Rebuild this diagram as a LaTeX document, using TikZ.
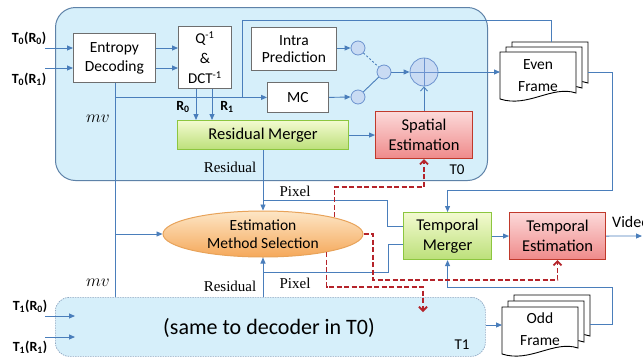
\documentclass[tikz,border=0pt]{standalone}
\usepackage{fontspec}
\setmainfont{Carlito}
\newfontfamily\srf{Liberation Serif}
\usetikzlibrary{arrows.meta,shapes.geometric}
\definecolor{lineblue}{HTML}{4A7EBB}
\definecolor{contborder}{HTML}{5E82A8}
\definecolor{contfill}{HTML}{D6EFFA}
\definecolor{boxgray}{HTML}{6E6E6E}
\definecolor{grnborder}{HTML}{8CC63F}
\definecolor{grntop}{HTML}{F3FAD0}
\definecolor{grnbot}{HTML}{BCE07A}
\definecolor{redborder}{HTML}{C0392B}
\definecolor{redtop}{HTML}{FCD9D9}
\definecolor{redbot}{HTML}{EF8A8A}
\definecolor{orgborder}{HTML}{E8A35A}
\definecolor{orgtop}{HTML}{FDE6C6}
\definecolor{orgbot}{HTML}{F5A85A}
\definecolor{cirborder}{HTML}{6C93CF}
\definecolor{cirfill}{HTML}{C9DBF3}
\definecolor{dashred}{HTML}{B5232A}
\newcommand\lbl{\fontsize{15.5}{19}\selectfont}
\newcommand\clbl{\fontsize{16.5}{20}\selectfont}
\begin{document}
\begin{tikzpicture}[x=1pt,y=-1pt,
 line/.style={draw=lineblue, line width=0.9pt},
 arr/.style={line, -{Triangle[length=6pt,width=5pt]}},
 rline/.style={draw=dashred, line width=1.8pt, dash pattern=on 5pt off 2.5pt},
 rarr/.style={rline, -{Straight Barb[length=4pt,width=8pt]}},
 wbox/.style={draw=boxgray, fill=white, line width=0.8pt, align=center, font=\lbl, inner sep=1pt, anchor=north west},
 gbox/.style={wbox, draw=grnborder, top color=grntop, bottom color=grnbot, line width=1.1pt, font=\clbl},
 rbox/.style={wbox, draw=redborder, top color=redtop, bottom color=redbot, line width=1.1pt, font=\clbl},
 cont/.style={draw=contborder, fill=contfill, rounded corners=20pt, line width=1pt, anchor=north west},
 cir/.style={circle, draw=cirborder, fill=cirfill, inner sep=0pt, minimum size=14pt, line width=0.8pt},
 doc/.style={draw=black, fill=white, line width=0.9pt},
 lab/.style={font=\srf\fontsize{15}{15}\selectfont, inner sep=0pt},
 inl/.style={font=\bfseries\fontsize{14}{14}\selectfont, inner sep=0pt},
 docpage/.pic={\draw[doc] (0,0) -- (76,0) -- (76,41) .. controls (52,33) and (28,56) .. (0,47) -- cycle;},
]
\fill[white] (0,0) rectangle (643,362);
\useasboundingbox (0,0) rectangle (643,362);

% containers
\node[cont, minimum width=432pt, minimum height=173pt] (T0) at (55,7) {};
\node[cont, draw=contborder!70, dash pattern=on 1.5pt off 1pt, line width=0.7pt, rounded corners=14pt, minimum width=430pt, minimum height=59pt] (T1) at (55,297) {};
\node[font=\fontsize{15}{15}\selectfont] (t0lbl) at (457,170) {T0};
\node[font=\fontsize{15}{15}\selectfont] (t1lbl) at (462,345) {T1};
\node[font=\fontsize{22}{22}\selectfont] (same) at (269,328) {(same to decoder in T0)};

% boxes
\node[wbox, minimum width=82pt, minimum height=49pt] (ent) at (73,33) {Entropy\\Decoding};
\node[wbox, minimum width=53pt, minimum height=62pt, font=\fontsize{15}{20}\selectfont] (q) at (178,26) {Q\textsuperscript{-1}\\\&\\DCT\textsuperscript{-1}};
\node[wbox, minimum width=85pt, minimum height=43pt, font=\fontsize{15.5}{17}\selectfont] (intra) at (251,27) {Intra\\Prediction};
\node[wbox, minimum width=61pt, minimum height=30pt] (mc) at (267,82) {MC};
\node[gbox, minimum width=171pt, minimum height=29pt] (rm) at (177,120) {Residual Merger};
\node[rbox, minimum width=97pt, minimum height=47pt] (se) at (375,111) {Spatial\\Estimation};
\node[gbox, minimum width=88pt, minimum height=47pt] (tm) at (403,212) {Temporal\\Merger};
\node[rbox, minimum width=96pt, minimum height=47pt] (te) at (509,212) {Temporal\\Estimation};
\node[ellipse, draw=orgborder, top color=orgtop, bottom color=orgbot, line width=1pt, minimum width=200pt, minimum height=46pt, inner sep=0pt] (ems) at (263,234) {};
\node[font=\fontsize{15.5}{18}\selectfont, align=center] (emstxt) at (ems.center) {Estimation\\Method Selection};

% circles
\node[cir] (c1) at (358,48) {};
\node[cir] (c2) at (384,72) {};
\node[cir] (c3) at (358,97) {};
\node[cir, minimum size=28pt] (add) at (424,72) {};
\draw[cirborder, line width=0.8pt] (add.north) -- (add.south) (add.west) -- (add.east);

% frames
\pic at (512,42) {docpage};
\pic at (506,47) {docpage};
\pic at (500,52) {docpage};
\node[font=\fontsize{15.5}{22}\selectfont, align=center] (even) at (538,76) {Even\\Frame};
\pic at (514,295) {docpage};
\pic at (508,301) {docpage};
\pic at (502,307) {docpage};
\node[font=\fontsize{15.5}{22}\selectfont, align=center] (odd) at (540,329) {Odd\\Frame};
\coordinate (evenIn) at (500,72);
\coordinate (evenTop) at (551,42);
\coordinate (evenR) at (588,72);
\coordinate (oddIn) at (502,325);
\coordinate (oddR) at (590,324);

% T0 inputs
\coordinate (a0) at (45,48);
\coordinate (a1) at (45,68);
\draw[arr] (a0) -- (a0 -| ent.west);
\draw[arr] (a1) -- (a1 -| ent.west);
\draw[arr] (a0 -| ent.east) -- (a0 -| q.west);
\draw[arr] (a1 -| ent.east) -- (a1 -| q.west);
\node[inl] (lt0r0) at (29,38) {T\textsubscript{0}(R\textsubscript{0})};
\node[inl] (lt0r1) at (29,79) {T\textsubscript{0}(R\textsubscript{1})};

% R0 R1
\coordinate (r0) at (196,0);
\coordinate (r1) at (212,0);
\draw[arr] (r0 |- q.south) -- (r0 |- rm.north);
\draw[arr] (r1 |- q.south) -- (r1 |- rm.north);
\node[inl] (lr0) at (183,107) {R\textsubscript{0}};
\node[inl] (lr1) at (227,107) {R\textsubscript{1}};

% mv
\coordinate (mvx) at (115,0);
\draw[line] (mvx |- ent.south) -- (mvx |- T1.north);
\draw[arr] (mvx |- mc.west) -- (mc.west);
\draw[arr] (mvx |- ems.west) -- (ems.west);
\node[lab, font=\fontsize{16}{16}\selectfont] (mv1) at (98,119) {$mv$};
\node[lab, font=\fontsize{16}{16}\selectfont] (mv2) at (98,283) {$mv$};

% reference feedback
\coordinate (fbtop) at (242,20);
\draw[line] (evenTop) |- (fbtop) -- (fbtop |- mc.west);

% prediction path
\draw[arr] (intra.east |- c1) -- (c1.west);
\draw[line, dash pattern=on 2pt off 2pt] (c1) -- (c2);
\draw[line] (c3) -- (c2);
\draw[arr] (c2) -- (add);
\draw[arr] (mc.east) -- (c3.west);
\draw[arr] (add.east) -- (evenIn);
\draw[line, -{Straight Barb[length=4pt,width=7pt]}] (se.north -| add) -- (add.south);
\draw[arr] (rm.east) -- (se.west);

% residual / pixel
\coordinate (px) at (263,0);
\draw[arr] (px |- rm.south) -- (ems.north);
\coordinate (p1) at (263,200);
\coordinate (p1b) at (387,226);
\draw[line] (p1) -| (p1b) -- (p1b -| tm.west);
\draw[arr] (px |- T1.north) -- (ems.south);
\coordinate (p2) at (263,272);
\coordinate (p2b) at (388,244);
\draw[line] (p2) -| (p2b) -- (p2b -| tm.west);
\node[lab] (res1) at (230,167) {Residual};
\node[lab] (pix1) at (295,191) {Pixel};
\node[lab] (res2) at (230,286) {Residual};
\node[lab] (pix2) at (295,283) {Pixel};

% temporal
\draw[arr] (tm.east) -- (te.west);
\coordinate (vid) at (642,236);
\draw[arr] (te.east) -- (vid);
\node[font=\fontsize{16}{16}\selectfont, anchor=west, inner sep=0pt] (vidtxt) at (612,222) {Video};
\coordinate (ex) at (612,190);
\draw[arr] (evenR) -| (ex) -| (tm.north);
\coordinate (ox) at (612,287);
\draw[arr] (oddR) -| (ox) -| (tm.south);
\draw[arr] (T1.east |- oddIn) -- (oddIn);

% T1 inputs
\coordinate (b0) at (45,316);
\coordinate (b1) at (45,337);
\coordinate (b0e) at (75,316);
\coordinate (b1e) at (75,337);
\draw[arr] (b0) -- (b0e);
\draw[arr] (b1) -- (b1e);
\node[inl] (lt1r0) at (30,306) {T\textsubscript{1}(R\textsubscript{0})};
\node[inl] (lt1r1) at (30,347) {T\textsubscript{1}(R\textsubscript{1})};

% red dashed control
\coordinate (d1) at (424,187);
\draw[rarr] (ems.13.5) |- (d1) -- (se.south -| d1);
\coordinate (d2) at (373,280);
\draw[rarr] (ems.east) -| (d2) -| (te.south);
\coordinate (d3) at (423,287);
\coordinate (d3e) at (423,312);
\draw[rarr] (ems.-16) |- (d3) -- (d3e);
\end{tikzpicture}
\end{document}
